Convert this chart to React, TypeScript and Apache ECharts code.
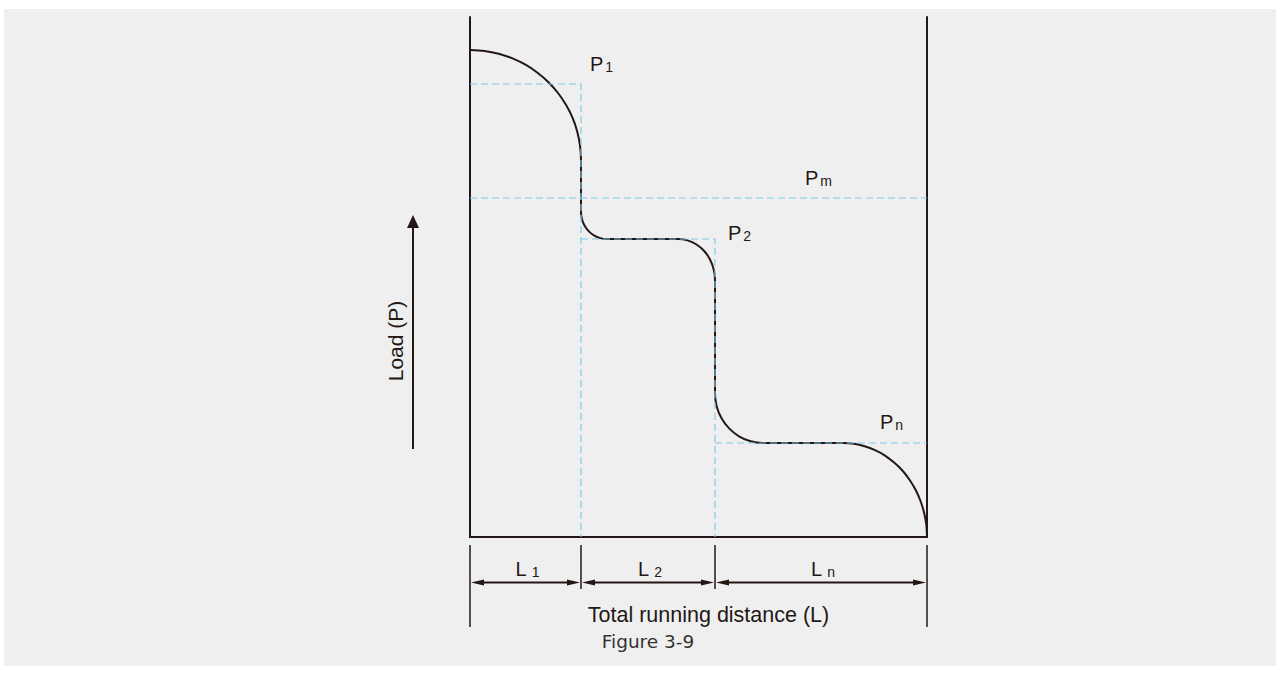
import React, { useEffect, useRef } from "react";
import * as echarts from "echarts";

// x units: running distance measured from the left wall; y units: load from the base line
const xMax = 457;
const yMax = 520;
// edges of the L1, L2, Ln segments
const boundaries = [0, 111, 245, 457];
const segmentSubs = ["1", "2", "n"];

// load levels
const levelP1 = 453;
const levelPm = 339;
const levelP2 = 298;
const levelPn = 94;

// the load curve
const loadCurve: [number, number][] = [
  [0, 487], [14.5, 486.1], [28.7, 483.3], [42.5, 478.6], [55.5, 472.3], [67.5, 464.3], [78.5, 454.8],
  [88, 444], [96.1, 432], [102.5, 419.3], [107.2, 405.5], [110, 391.4], [111, 377],
  [111, 325], [111.9, 318], [114.5, 311.5], [118.6, 305.9], [124, 301.6], [130.3, 298.9], [137, 298],
  [208, 298], [217.6, 296.6], [226.5, 292.5], [234.2, 286], [240, 277.5], [243.7, 267.6], [245, 257],
  [245, 144], [246.6, 131.1], [251.4, 119], [259.1, 108.6], [269, 100.7], [280.6, 95.7], [293, 94],
  [373, 94], [384, 93.3], [394.7, 90.8], [405.1, 86.8], [415, 81.4], [424.1, 74.4], [432.4, 66.5],
  [439.5, 57.3], [445.7, 47], [450.5, 36], [454.1, 24.3], [456.3, 12.3], [457, 0],
];

// dashed guides
const guideP1: [number, number][] = [[0, levelP1], [111, levelP1], [111, 0]];
const guidePm: [number, number][] = [[0, levelPm], [457, levelPm]];
const guideP2: [number, number][] = [[111, levelP2], [245, levelP2], [245, 0]];
const guidePn: [number, number][] = [[245, levelPn], [457, levelPn]];

// P labels: subscript and anchor (left edge, vertical middle) in data units
const pLabelSubs = ["1", "m", "2", "n"];
const pLabelX = [120, 335, 258, 410];
const pLabelY = [473, 359, 304, 115];

const INK = "#231815";
const BLUE = "#80c9ee";
const FONT = "Arial, Liberation Sans, Helvetica, sans-serif";

export default function App() {
  const ref = useRef<HTMLDivElement>(null);

  useEffect(() => {
    if (!ref.current) return;
    const chart = echarts.init(ref.current, undefined, { renderer: "svg" });

    const dashed = (data: [number, number][]) => ({
      type: "line",
      data,
      symbol: "none",
      silent: true,
      z: 5,
      lineStyle: { color: BLUE, width: 1.2, type: [7, 4] },
    });

    chart.setOption({
      animation: false,
      backgroundColor: "transparent",
      grid: { left: 470, top: 17, width: 457, height: 520 },
      xAxis: {
        type: "value",
        min: 0,
        max: xMax,
        axisLine: { show: true, onZero: false, lineStyle: { color: INK, width: 2.2 } },
        axisTick: { show: false },
        axisLabel: { show: false },
        splitLine: { show: false },
      },
      yAxis: [
        {
          type: "value",
          min: 0,
          max: yMax,
          position: "left",
          axisLine: { show: true, onZero: false, lineStyle: { color: INK, width: 2 } },
          axisTick: { show: false },
          axisLabel: { show: false },
          splitLine: { show: false },
        },
        {
          type: "value",
          min: 0,
          max: yMax,
          position: "right",
          axisLine: { show: true, onZero: false, lineStyle: { color: INK, width: 2 } },
          axisTick: { show: false },
          axisLabel: { show: false },
          splitLine: { show: false },
        },
      ],
      series: [
        {
          type: "line",
          data: loadCurve,
          symbol: "none",
          smooth: 0.3,
          z: 3,
          lineStyle: { color: INK, width: 2 },
        },
        dashed(guideP1),
        dashed(guidePm),
        dashed(guideP2),
        dashed(guidePn),
      ],
    });

    const px = (x: number) => chart.convertToPixel({ xAxisIndex: 0 }, x) as number;
    const py = (y: number) => chart.convertToPixel({ yAxisIndex: 0 }, y) as number;

    const g: any[] = [];
    const baseY = py(0);
    const xs = boundaries.map(px);

    // dimension ticks
    xs.forEach((x, i) => {
      const outer = i === 0 || i === xs.length - 1;
      g.push({
        type: "line",
        shape: { x1: x, y1: baseY + 8, x2: x, y2: baseY + (outer ? 90 : 52) },
        style: { stroke: INK, lineWidth: 1.5 },
      });
    });
    // dimension arrows and L labels
    const arrowY = baseY + 45.5;
    for (let i = 0; i < xs.length - 1; i++) {
      const a = xs[i] + 1;
      const b = xs[i + 1] - 1;
      g.push({
        type: "line",
        shape: { x1: a + 6, y1: arrowY, x2: b - 6, y2: arrowY },
        style: { stroke: INK, lineWidth: 1.8 },
      });
      g.push({
        type: "polygon",
        shape: { points: [[a, arrowY], [a + 13, arrowY - 3], [a + 13, arrowY + 3]] },
        style: { fill: INK },
      });
      g.push({
        type: "polygon",
        shape: { points: [[b, arrowY], [b - 13, arrowY - 3], [b - 13, arrowY + 3]] },
        style: { fill: INK },
      });
      g.push({
        type: "text",
        x: (xs[i] + xs[i + 1]) / 2 + 2,
        y: baseY + 32,
        style: {
          text: `{l|L}{s|${segmentSubs[i]}}`,
          align: "center",
          verticalAlign: "middle",
          rich: {
            l: { fontSize: 20, fontFamily: FONT, fill: INK, lineHeight: 20, verticalAlign: "bottom" },
            s: { fontSize: 14, fontFamily: FONT, fill: INK, lineHeight: 14, verticalAlign: "bottom", padding: [0, 0, 0, 5] },
          },
        },
      });
    }

    // P labels
    pLabelSubs.forEach((sub, i) => {
      g.push({
        type: "text",
        x: px(pLabelX[i]),
        y: py(pLabelY[i]),
        style: {
          text: `{p|P}{s|${sub}}`,
          align: "left",
          verticalAlign: "middle",
          rich: {
            p: { fontSize: 20, fontFamily: FONT, fill: INK, lineHeight: 20, verticalAlign: "bottom" },
            s: { fontSize: 14, fontFamily: FONT, fill: INK, lineHeight: 14, verticalAlign: "bottom", padding: [0, 0, 0, 2] },
          },
        },
      });
    });

    // axis titles
    g.push({
      type: "text",
      x: (xs[0] + xs[xs.length - 1]) / 2 + 10,
      y: baseY + 78,
      style: { text: "Total running distance (L)", fontSize: 21.5, fontFamily: FONT, fill: INK, align: "center", verticalAlign: "middle" },
    });
    g.push({
      type: "text",
      x: 648,
      y: 641,
      style: { text: "Figure 3-9", fontSize: 18.5, fontFamily: "DejaVu Sans, sans-serif", fill: "#333333", align: "center", verticalAlign: "middle" },
    });
    g.push({
      type: "text",
      x: 395,
      y: 341,
      rotation: Math.PI / 2,
      style: { text: "Load (P)", fontSize: 21, fontFamily: FONT, fill: INK, align: "center", verticalAlign: "middle" },
    });
    // load arrow
    g.push({
      type: "line",
      shape: { x1: 413, y1: 449, x2: 413, y2: 226 },
      style: { stroke: INK, lineWidth: 2 },
    });
    g.push({
      type: "polygon",
      shape: { points: [[413, 215], [407, 228], [419, 228]] },
      style: { fill: INK },
    });

    chart.setOption({ graphic: g });

    return () => chart.dispose();
  }, []);

  return (
    <div style={{ position: "fixed", left: 0, top: 0, width: 1280, height: 675, background: "#ffffff" }}>
      <div style={{ position: "absolute", left: 4, top: 9, width: 1272, height: 657, background: "#efefef" }} />
      <div ref={ref} style={{ position: "absolute", left: 0, top: 0, width: 1280, height: 675 }} />
    </div>
  );
}
